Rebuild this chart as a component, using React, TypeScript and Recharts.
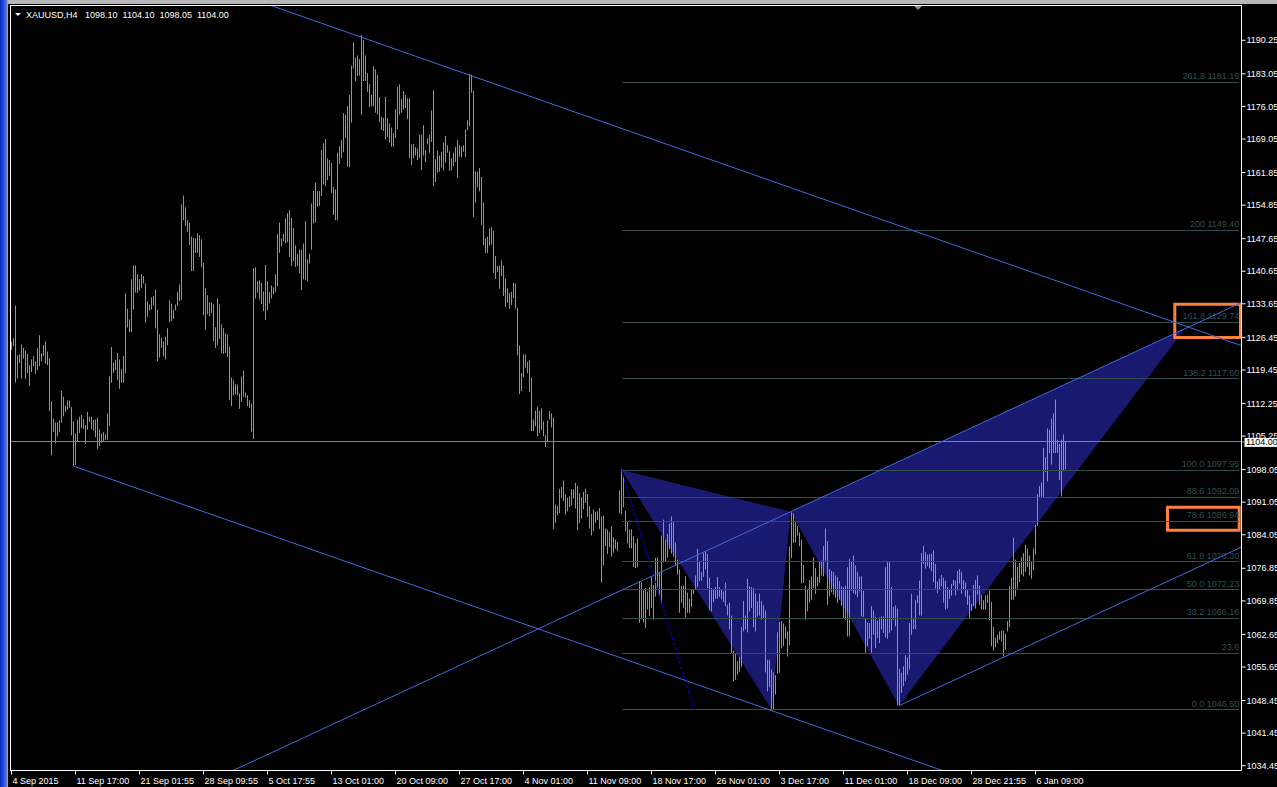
import React from 'react';
import { ComposedChart, Bar, Area, XAxis, YAxis, ReferenceLine, ReferenceArea } from 'recharts';

const FONT = '"Liberation Sans", Arial, sans-serif';
const BAR_COLOR = '#30dc20';
const FIB_COLOR = '#2f4f4f';
const TREND_COLOR = '#4169e1';
const BID_COLOR = '#778899';
const PATTERN_FILL = '#191970';
const BOX_COLOR = '#ff7f3f';

// H4 bar highs
const highs: number[] = [
  1125.5, 1126.2, 1133.3, 1122.6, 1122.8, 1124.9, 1124.2, 1123.6, 1122.9, 1120.5,
  1121.7, 1122.4, 1121.3, 1124.2, 1126.9, 1123.0, 1124.8, 1125.6, 1123.4, 1121.9,
  1112.7, 1109.0, 1108.2, 1108.2, 1108.6, 1115.0, 1113.7, 1111.8, 1112.9, 1112.9,
  1111.5, 1108.4, 1105.8, 1108.7, 1109.4, 1109.8, 1108.9, 1107.6, 1110.5, 1109.4,
  1109.4, 1108.7, 1108.8, 1109.2, 1106.7, 1105.8, 1106.1, 1105.6, 1110.1, 1118.1,
  1124.4, 1121.0, 1121.6, 1123.1, 1121.7, 1119.6, 1122.4, 1135.9, 1132.6, 1130.3,
  1138.9, 1141.9, 1141.9, 1140.0, 1139.0, 1140.0, 1139.6, 1138.0, 1134.2, 1133.5,
  1135.0, 1135.3, 1136.7, 1132.4, 1127.1, 1126.3, 1125.6, 1126.6, 1128.4, 1134.4,
  1133.7, 1132.4, 1133.5, 1136.2, 1137.8, 1155.0, 1156.9, 1154.4, 1151.6, 1151.0,
  1148.1, 1147.8, 1147.7, 1148.8, 1148.4, 1147.5, 1142.5, 1137.0, 1135.5, 1134.0,
  1134.0, 1133.5, 1128.6, 1134.8, 1133.5, 1129.2, 1128.4, 1127.3, 1127.1, 1124.5,
  1117.8, 1117.2, 1116.4, 1116.3, 1114.4, 1118.0, 1119.3, 1114.6, 1114.0, 1112.9,
  1112.2, 1141.3, 1141.5, 1138.5, 1138.7, 1138.2, 1136.3, 1142.0, 1138.5, 1136.2,
  1137.6, 1137.2, 1140.0, 1148.6, 1151.1, 1147.7, 1148.6, 1152.0, 1153.1, 1153.8,
  1152.1, 1149.9, 1146.2, 1144.4, 1145.3, 1145.3, 1146.6, 1151.4, 1143.2, 1144.4,
  1155.2, 1157.9, 1159.7, 1157.9, 1157.9, 1166.7, 1168.1, 1169.0, 1164.9, 1164.5,
  1163.9, 1158.7, 1158.2, 1166.1, 1167.5, 1168.8, 1174.6, 1174.2, 1176.1, 1178.5,
  1184.8, 1189.8, 1186.5, 1187.0, 1186.2, 1191.4, 1190.3, 1187.0, 1183.2, 1180.8,
  1178.5, 1184.7, 1184.0, 1182.8, 1178.0, 1173.8, 1173.6, 1178.1, 1173.5, 1172.4,
  1171.5, 1170.3, 1175.4, 1180.3, 1180.8, 1177.6, 1179.3, 1178.5, 1177.8, 1177.8,
  1167.9, 1168.0, 1167.3, 1167.0, 1170.0, 1170.0, 1172.0, 1166.7, 1169.2, 1170.0,
  1175.2, 1179.5, 1164.7, 1166.6, 1165.5, 1166.3, 1168.3, 1169.7, 1167.7, 1166.4,
  1164.9, 1166.1, 1167.3, 1168.8, 1167.8, 1167.4, 1167.7, 1171.1, 1173.1, 1183.0,
  1182.9, 1179.4, 1162.1, 1162.0, 1162.8, 1160.9, 1155.4, 1147.7, 1148.1, 1149.8,
  1150.1, 1149.4, 1143.9, 1141.8, 1141.8, 1143.0, 1141.9, 1139.1, 1137.0, 1136.0,
  1136.2, 1138.2, 1138.0, 1132.8, 1124.7, 1118.8, 1122.8, 1122.8, 1121.2, 1121.5,
  1117.8, 1108.8, 1110.7, 1111.5, 1110.6, 1111.2, 1108.4, 1105.4, 1108.6, 1110.6,
  1110.1, 1109.2, 1090.5, 1090.2, 1093.9, 1094.3, 1095.7, 1092.7, 1092.0, 1092.3,
  1093.8, 1093.8, 1095.2, 1094.6, 1093.0, 1092.1, 1093.3, 1093.9, 1092.8, 1090.2,
  1088.5, 1089.5, 1089.0, 1089.1, 1089.8, 1088.0, 1088.2, 1085.4, 1085.2, 1084.6,
  1085.9, 1083.5, 1083.0, 1082.5, 1093.6, 1098.1, 1096.8, 1089.2, 1087.0, 1085.2,
  1085.2, 1083.7, 1082.2, 1083.2, 1074.1, 1073.8, 1072.1, 1072.6, 1071.9, 1072.8,
  1075.1, 1073.3, 1079.1, 1079.2, 1076.0, 1083.9, 1087.3, 1083.0, 1084.2, 1086.5,
  1088.0, 1087.0, 1082.4, 1078.7, 1076.6, 1073.0, 1073.1, 1075.1, 1071.6, 1070.3,
  1072.2, 1072.4, 1075.3, 1081.0, 1078.4, 1076.0, 1080.2, 1080.5, 1079.9, 1074.8,
  1072.6, 1072.3, 1072.8, 1075.0, 1072.8, 1072.4, 1071.9, 1073.8, 1069.0, 1069.5,
  1066.7, 1059.2, 1058.7, 1056.9, 1057.8, 1064.2, 1069.8, 1066.7, 1074.6, 1073.0,
  1072.8, 1072.6, 1071.4, 1069.8, 1071.4, 1069.8, 1068.9, 1067.8, 1057.2, 1057.2,
  1055.1, 1054.5, 1053.9, 1063.1, 1065.3, 1065.5, 1065.0, 1064.4, 1063.3, 1081.6,
  1088.9, 1088.6, 1086.7, 1085.9, 1084.6, 1083.0, 1077.6, 1073.1, 1072.3, 1074.3,
  1075.1, 1079.2, 1076.9, 1075.0, 1078.2, 1078.5, 1081.6, 1085.4, 1082.7, 1076.7,
  1076.3, 1076.1, 1075.3, 1075.0, 1074.1, 1073.0, 1072.8, 1073.1, 1077.1, 1078.9,
  1078.2, 1079.6, 1077.5, 1076.1, 1075.1, 1075.1, 1072.0, 1066.0, 1065.2, 1065.1,
  1068.7, 1067.8, 1066.4, 1065.6, 1066.3, 1066.5, 1066.5, 1077.1, 1078.4, 1078.4,
  1072.8, 1068.5, 1068.9, 1068.2, 1055.3, 1054.4, 1055.8, 1058.2, 1057.7, 1065.1,
  1071.4, 1066.2, 1070.0, 1071.0, 1074.2, 1080.1, 1081.7, 1080.3, 1079.8, 1079.9,
  1080.0, 1080.7, 1077.8, 1074.0, 1074.6, 1075.4, 1074.8, 1074.2, 1072.8, 1072.3,
  1073.5, 1074.4, 1074.2, 1076.3, 1076.7, 1076.1, 1074.3, 1073.8, 1072.4, 1071.0,
  1069.2, 1073.3, 1074.3, 1075.3, 1073.1, 1071.1, 1070.0, 1071.0, 1071.2, 1072.0,
  1069.6, 1064.2, 1061.9, 1062.6, 1063.3, 1063.5, 1063.5, 1062.8, 1065.5, 1073.0,
  1074.8, 1083.4, 1078.7, 1077.1, 1078.0, 1079.2, 1080.1, 1081.9, 1081.1, 1079.6,
  1078.4, 1081.1, 1086.2, 1092.8, 1094.5, 1095.3, 1102.7, 1100.7, 1106.9, 1106.6,
  1109.0, 1110.1, 1113.1, 1104.5, 1103.6, 1104.5, 1105.6, 1104.1,
];

// H4 bar lows
const lows: number[] = [
  1123.8, 1124.6, 1116.7, 1117.6, 1120.9, 1117.6, 1121.9, 1117.5, 1118.8, 1116.0,
  1119.0, 1120.3, 1118.6, 1119.4, 1120.3, 1121.3, 1122.4, 1120.8, 1120.5, 1110.6,
  1101.1, 1106.1, 1103.7, 1105.2, 1106.1, 1108.1, 1109.5, 1110.5, 1110.9, 1111.3,
  1105.4, 1098.8, 1099.0, 1104.0, 1105.9, 1106.9, 1106.8, 1103.5, 1106.6, 1108.3,
  1106.7, 1106.4, 1105.0, 1102.5, 1103.1, 1103.8, 1104.0, 1104.4, 1104.5, 1107.4,
  1116.7, 1118.8, 1119.4, 1117.3, 1115.4, 1116.7, 1116.7, 1118.7, 1128.6, 1127.6,
  1127.6, 1132.4, 1136.1, 1136.0, 1136.5, 1137.0, 1138.0, 1129.6, 1130.9, 1132.2,
  1132.4, 1133.3, 1128.4, 1121.3, 1122.1, 1124.2, 1122.4, 1121.7, 1124.8, 1129.7,
  1129.9, 1130.4, 1132.2, 1133.2, 1134.2, 1134.5, 1151.6, 1150.4, 1149.1, 1146.3,
  1140.7, 1140.7, 1144.6, 1144.6, 1143.7, 1141.5, 1131.2, 1128.1, 1131.4, 1131.0,
  1131.7, 1125.6, 1124.2, 1124.8, 1126.1, 1123.1, 1122.9, 1123.1, 1122.2, 1113.0,
  1111.7, 1114.0, 1114.2, 1114.0, 1111.1, 1112.6, 1113.7, 1113.5, 1111.7, 1111.3,
  1106.2, 1104.6, 1134.8, 1136.0, 1134.6, 1133.6, 1132.1, 1130.2, 1132.3, 1133.7,
  1134.8, 1135.7, 1136.2, 1137.5, 1144.6, 1146.0, 1147.1, 1146.7, 1146.9, 1143.7,
  1141.8, 1142.8, 1141.6, 1141.8, 1140.2, 1136.6, 1138.9, 1138.7, 1138.5, 1142.3,
  1145.3, 1150.9, 1151.1, 1154.5, 1154.7, 1156.8, 1159.3, 1158.9, 1160.2, 1161.2,
  1157.5, 1152.7, 1151.6, 1151.6, 1163.7, 1165.0, 1166.2, 1169.3, 1163.1, 1163.0,
  1172.6, 1184.2, 1181.5, 1182.6, 1182.7, 1174.2, 1181.5, 1181.5, 1179.2, 1175.9,
  1176.1, 1176.1, 1174.7, 1174.3, 1172.7, 1171.0, 1170.8, 1169.0, 1169.5, 1168.3,
  1167.4, 1167.4, 1169.3, 1171.1, 1174.3, 1174.7, 1175.4, 1175.7, 1173.3, 1165.0,
  1163.5, 1164.9, 1165.5, 1164.5, 1165.0, 1162.4, 1165.5, 1164.1, 1167.9, 1166.1,
  1168.4, 1158.9, 1159.8, 1161.8, 1162.0, 1162.9, 1162.3, 1164.0, 1166.1, 1162.2,
  1162.3, 1163.2, 1164.1, 1160.7, 1165.3, 1165.1, 1166.3, 1165.2, 1170.9, 1171.8,
  1179.0, 1152.3, 1155.4, 1158.7, 1157.8, 1150.6, 1146.3, 1144.6, 1144.5, 1146.2,
  1146.4, 1140.3, 1139.0, 1140.5, 1136.9, 1139.6, 1135.3, 1133.0, 1133.9, 1132.6,
  1133.4, 1134.9, 1132.6, 1122.6, 1114.3, 1114.9, 1117.8, 1119.9, 1118.7, 1114.7,
  1106.3, 1106.3, 1107.4, 1105.2, 1105.9, 1106.6, 1105.2, 1102.9, 1103.9, 1108.8,
  1107.1, 1085.3, 1086.6, 1088.2, 1088.7, 1092.0, 1091.3, 1088.4, 1089.1, 1090.0,
  1090.3, 1091.8, 1089.7, 1085.0, 1086.5, 1087.5, 1089.5, 1090.9, 1087.9, 1085.4,
  1083.9, 1084.8, 1086.6, 1087.2, 1085.3, 1073.8, 1077.5, 1081.6, 1079.9, 1081.4,
  1079.4, 1080.2, 1081.1, 1080.5, 1088.7, 1088.4, 1090.0, 1084.8, 1082.2, 1081.2,
  1081.1, 1077.1, 1076.9, 1077.1, 1065.2, 1066.0, 1065.2, 1064.0, 1068.0, 1066.7,
  1068.3, 1065.8, 1070.8, 1072.6, 1070.8, 1069.4, 1078.1, 1078.4, 1079.1, 1081.0,
  1080.0, 1079.4, 1077.6, 1075.5, 1067.3, 1069.4, 1068.3, 1066.3, 1067.3, 1067.3,
  1068.5, 1071.3, 1072.4, 1072.8, 1074.1, 1074.2, 1075.0, 1076.6, 1072.6, 1067.8,
  1067.6, 1069.6, 1070.3, 1070.3, 1070.7, 1070.2, 1069.6, 1068.7, 1066.7, 1063.7,
  1058.7, 1052.6, 1052.9, 1054.0, 1054.6, 1055.6, 1063.3, 1063.7, 1063.1, 1067.6,
  1068.3, 1064.2, 1063.3, 1066.5, 1066.7, 1065.8, 1066.0, 1054.5, 1050.4, 1051.3,
  1046.3, 1046.5, 1049.7, 1054.2, 1054.4, 1059.7, 1060.1, 1061.7, 1057.9, 1060.3,
  1079.0, 1082.3, 1082.4, 1083.9, 1081.6, 1073.6, 1073.7, 1065.8, 1067.6, 1069.5,
  1070.1, 1072.6, 1071.3, 1073.0, 1073.7, 1075.3, 1075.1, 1078.5, 1069.0, 1070.8,
  1071.7, 1071.2, 1070.5, 1069.4, 1070.1, 1068.8, 1066.2, 1065.8, 1062.2, 1062.2,
  1072.0, 1071.5, 1071.2, 1070.6, 1071.9, 1066.5, 1066.4, 1058.7, 1060.1, 1061.7,
  1058.7, 1062.6, 1059.7, 1061.9, 1060.8, 1063.7, 1063.0, 1062.0, 1061.7, 1063.0,
  1063.5, 1065.8, 1064.4, 1047.4, 1047.5, 1050.1, 1051.5, 1052.6, 1054.0, 1055.1,
  1062.6, 1063.8, 1063.8, 1069.4, 1066.7, 1066.7, 1077.8, 1076.8, 1077.3, 1076.8,
  1076.2, 1073.9, 1072.5, 1071.5, 1072.3, 1073.0, 1069.5, 1068.0, 1068.2, 1070.3,
  1071.0, 1073.1, 1071.0, 1072.1, 1073.6, 1071.4, 1072.3, 1070.7, 1069.0, 1066.2,
  1067.7, 1068.8, 1068.2, 1071.2, 1069.0, 1068.0, 1068.0, 1068.0, 1069.4, 1065.7,
  1060.1, 1059.2, 1059.9, 1060.8, 1061.5, 1061.2, 1057.9, 1059.4, 1063.3, 1064.2,
  1070.1, 1070.1, 1070.8, 1072.5, 1073.9, 1075.5, 1075.1, 1076.1, 1077.1, 1075.3,
  1074.6, 1076.4, 1079.8, 1086.0, 1092.0, 1092.2, 1092.2, 1097.5, 1095.5, 1101.6,
  1099.1, 1101.6, 1101.6, 1101.6, 1095.8, 1092.3, 1097.7, 1098.1,
];

const timeTickIndex = [0, 32, 64, 96, 128, 160, 192, 224, 256, 288, 320, 352, 384, 416, 448, 480, 512];
const timeLabels = [
  '4 Sep 2015', '11 Sep 17:00', '21 Sep 01:55', '28 Sep 09:55', '5 Oct 17:55', '13 Oct 01:00',
  '20 Oct 09:00', '27 Oct 17:00', '4 Nov 01:00', '11 Nov 09:00', '18 Nov 17:00', '26 Nov 01:00',
  '3 Dec 17:00', '11 Dec 01:00', '18 Dec 09:00', '28 Dec 21:55', '6 Jan 09:00',
];

const priceTicks = [
  1190.25, 1183.05, 1176.05, 1169.05, 1161.85, 1154.85, 1147.65, 1140.65, 1133.65, 1126.45,
  1119.45, 1112.25, 1105.25, 1098.05, 1091.05, 1084.05, 1076.85, 1069.85, 1062.65, 1055.65,
  1048.45, 1041.45, 1034.45,
];

const fibPrices = [1181.19, 1149.40, 1129.74, 1117.60, 1097.95, 1092.09, 1086.94, 1078.30, 1072.23, 1066.16, 1058.64, 1046.50];
const fibLabels = [
  '261.8 1181.19', '200 1149.40', '161.8 1129.74', '138.2 1117.60', '100.0 1097.95', '88.6 1092.09',
  '78.6 1086.94', '61.8 1078.30', '50.0 1072.23', '38.2 1066.16', '23.6', '0.0 1046.50',
];
const fibStart = 305;
const fibEnd = 613.9;

const bidPrice = 1104.0;
const headerText = 'XAUUSD,H4\u00a0\u00a0\u00a01098.10\u00a0\u00a01104.10\u00a0\u00a01098.05\u00a0\u00a01104.00';

const xDomain: [number, number] = [-0.75, 615];
const yDomain: [number, number] = [1033.42, 1197.83];

// Harmonic pattern points X, A, B, C, D (bar index, price)
const patternIdx = [305, 380, 389.6, 443.75, 586.75];
const patternPrice = [1097.95, 1046.5, 1089.0, 1047.34, 1128.3];

// Trend lines (bar index, price)
const upperChannel = [[120, 1199.18], [615, 1124.66]];
const lowerChannel = [[31, 1098.8], [480, 1031.23]];
const cLine = [[443.75, 1047.34], [615, 1081.4]];
const dottedLeg = [[305, 1097.95], [341.25, 1046.5]];
const bdExtent = [100, 615];

const highlightBoxes = [
  { x1: 581.65, x2: 614.5, y1: 1126.42, y2: 1133.57 },
  { x1: 578.0, x2: 613.85, y1: 1085.03, y2: 1089.97 },
];

const pt = (k: number) => ({ i: patternIdx[k], p: patternPrice[k] });
const triangle = (a: { i: number; p: number }, b: { i: number; p: number }, c: { i: number; p: number }) => {
  const t = (b.i - a.i) / (c.i - a.i);
  const top = a.p + t * (c.p - a.p);
  return [
    { i: a.i, r: [a.p, a.p] },
    { i: b.i, r: [b.p, top] },
    { i: c.i, r: [c.p, c.p] },
  ];
};

const extend = (a: { i: number; p: number }, b: { i: number; p: number }, x: number) =>
  a.p + ((x - a.i) * (b.p - a.p)) / (b.i - a.i);

const TimeTick = (props: any) => {
  const { x, y, payload } = props;
  const k = timeTickIndex.indexOf(payload.value);
  return (
    <text x={x + 1} y={y + 7.5} fill="#ffffff" fontSize={9} fontFamily={FONT} textAnchor="start">
      {k >= 0 ? timeLabels[k] : ''}
    </text>
  );
};

const PriceTick = (props: any) => {
  const { x, y, payload } = props;
  return (
    <text x={x} y={y + 3.2} fill="#ffffff" fontSize={9} fontFamily={FONT} textAnchor="start">
      {Number(payload.value).toFixed(2)}
    </text>
  );
};

const BidTag = (props: any) => {
  const vb = props.viewBox || {};
  const xr = (vb.x || 0) + (vb.width || 0);
  const y = vb.y || 0;
  return (
    <g>
      <line x1={xr} x2={xr + 3} y1={y} y2={y} stroke={BID_COLOR} />
      <rect x={xr + 3} y={y - 4} width={40} height={9} fill="#ffffff" />
      <text x={xr + 4.5} y={y + 3.6} fill="#000000" fontSize={9} fontFamily={FONT}>
        {bidPrice.toFixed(2)}
      </text>
    </g>
  );
};

const fibLabelRenderer = (text: string) => (props: any) => {
  const vb = props.viewBox || {};
  return (
    <text
      x={(vb.x || 0) + (vb.width || 0)}
      y={(vb.y || 0) - 3}
      fill={FIB_COLOR}
      fontSize={9}
      fontFamily={FONT}
      textAnchor="end"
    >
      {text}
    </text>
  );
};

const BarLine = (props: any) => {
  const { x, y, width, height } = props;
  if (x == null || y == null) return null;
  return <rect x={Math.floor(x + width / 2)} y={y} width={1} height={Math.max(height, 1)} fill={BAR_COLOR} />;
};

export default function App() {
  const bars = highs.map((h, i) => ({ i, hl: [lows[i], h] }));
  const X = pt(0), A = pt(1), B = pt(2), C = pt(3), D = pt(4);
  const triXAB = triangle(X, A, B);
  const triBCD = triangle(B, C, D);
  const bdLine = [
    [bdExtent[0], extend(B, D, bdExtent[0])],
    [bdExtent[1], extend(B, D, bdExtent[1])],
  ];
  const trendLines = [upperChannel, lowerChannel, bdLine, cLine];

  return (
    <div style={{ position: 'absolute', left: 0, top: 0, width: 1277, height: 787, background: '#000', overflow: 'hidden' }}>
      <ComposedChart width={1277} height={787} data={bars} margin={{ top: 5, right: 0, bottom: 0, left: 10 }}>
        <XAxis
          dataKey="i"
          type="number"
          domain={xDomain}
          allowDataOverflow
          ticks={timeTickIndex}
          interval={0}
          height={16.5}
          tickSize={4}
          tickMargin={2}
          axisLine={{ stroke: '#ffffff' }}
          tickLine={{ stroke: '#ffffff' }}
          tick={(p: any) => <TimeTick {...p} />}
        />
        <YAxis
          orientation="right"
          type="number"
          domain={yDomain}
          allowDataOverflow
          ticks={priceTicks}
          interval={0}
          width={35.5}
          tickSize={4}
          tickMargin={1}
          axisLine={{ stroke: '#ffffff' }}
          tickLine={{ stroke: '#ffffff' }}
          tick={(p: any) => <PriceTick {...p} />}
        />
        <Area data={triXAB} dataKey="r" type="linear" stroke="none" fill={PATTERN_FILL} fillOpacity={1} isAnimationActive={false} />
        <Area data={triBCD} dataKey="r" type="linear" stroke="none" fill={PATTERN_FILL} fillOpacity={1} isAnimationActive={false} />
        {fibPrices.map((p, k) => (
          <ReferenceLine
            key={'fib' + k}
            segment={[{ x: fibStart, y: p }, { x: fibEnd, y: p }]}
            stroke={FIB_COLOR}
            strokeWidth={1}
            shapeRendering="crispEdges"
            ifOverflow="visible"
            label={fibLabelRenderer(fibLabels[k])}
          />
        ))}
        <Bar dataKey="hl" barSize={1} fill={BAR_COLOR} isAnimationActive={false} shape={(p: any) => <BarLine {...p} />} />
        <ReferenceLine y={bidPrice} stroke={BID_COLOR} strokeWidth={1} shapeRendering="crispEdges" label={(p: any) => <BidTag {...p} />} />
        {trendLines.map((ln, k) => (
          <ReferenceLine
            key={'tl' + k}
            segment={[{ x: ln[0][0], y: ln[0][1] }, { x: ln[1][0], y: ln[1][1] }]}
            stroke={TREND_COLOR}
            strokeWidth={1}
            ifOverflow="hidden"
          />
        ))}
        <ReferenceLine
          segment={[{ x: dottedLeg[0][0], y: dottedLeg[0][1] }, { x: dottedLeg[1][0], y: dottedLeg[1][1] }]}
          stroke="#0000ff"
          strokeWidth={1}
          strokeDasharray="3 2"
          ifOverflow="hidden"
        />
        {highlightBoxes.map((b, k) => (
          <ReferenceArea
            key={'box' + k}
            x1={b.x1}
            x2={b.x2}
            y1={b.y1}
            y2={b.y2}
            fill="none"
            fillOpacity={0}
            stroke={BOX_COLOR}
            strokeWidth={3}
            strokeOpacity={1}
            ifOverflow="visible"
          />
        ))}
      </ComposedChart>
      {/* window chrome & frame */}
      <div style={{ position: 'absolute', left: 0, top: 0, width: 8, height: 787, background: 'linear-gradient(to right, #0a1a80 0px, #1040e0 1px, #1848f0 4px, #6080e0 5px, #2050e0 6px, #a0a0a0 7px, #a0a0a0 9px)' }} />
      <div style={{ position: 'absolute', left: 8, top: 0, width: 1269, height: 4, background: '#b8b8b8' }} />
      <div style={{ position: 'absolute', left: 10, top: 5, width: 1232, height: 1, background: '#ffffff' }} />
      <div style={{ position: 'absolute', left: 10, top: 5, width: 1, height: 766, background: '#ffffff' }} />
      <svg style={{ position: 'absolute', left: 0, top: 0 }} width={1277} height={30}>
        <polygon points="15,13 21,13 18,16" fill="#ffffff" />
        <text x={26} y={18} fill="#ffffff" fontSize={9} fontFamily={FONT}>{headerText}</text>
        <polygon points="914,6 922,6 918,10" fill="#8c8c8c" />
      </svg>
    </div>
  );
}
